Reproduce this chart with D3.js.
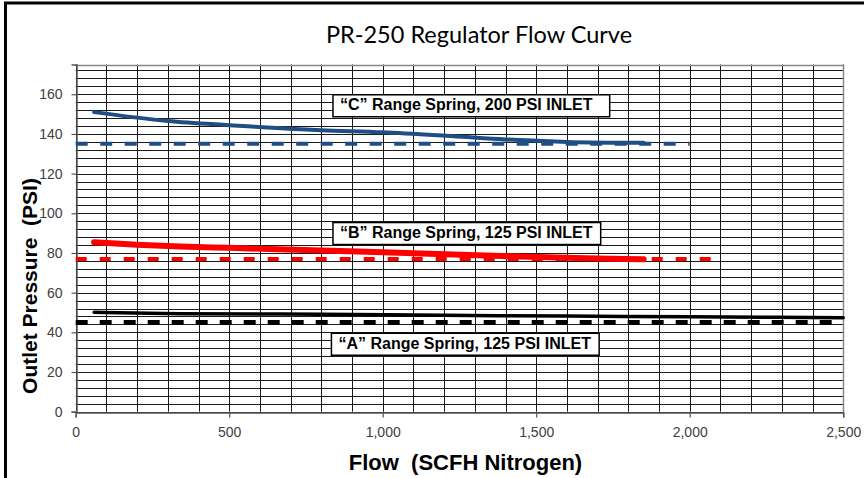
<!DOCTYPE html>
<html>
<head>
<meta charset="utf-8">
<script src="https://cdn.jsdelivr.net/npm/d3@7"></script>
<style>
  html, body { margin: 0; padding: 0; background: #fff; }
  svg { display: block; }
  text { white-space: pre; }
</style>
</head>
<body>
<svg id="chart" width="864" height="478"></svg>
<script>
// ---- data ----
const titleText = "PR-250 Regulator Flow Curve";
const xTitle = "Flow  (SCFH Nitrogen)";
const yTitle = "Outlet Pressure  (PSI)";
const xTicks = [0, 500, 1000, 1500, 2000, 2500];
const yTicks = [0, 20, 40, 60, 80, 100, 120, 140, 160];

// "C" range spring, 200 PSI inlet (solid: measured curve, dashed: set point)
const cFlow     = [60, 300, 500, 800, 1000, 1230, 1400, 1600, 1850];
const cPressure = [151, 146.5, 144.4, 141.9, 140.8, 138.8, 137.2, 136.0, 135.5];
const cSetFlow  = [0, 2000];
const cSetPress = [135, 135];

// "B" range spring, 125 PSI inlet
const bFlow     = [60, 200, 340, 500, 800, 1000, 1230, 1450, 1665, 1850];
const bPressure = [85.4, 84.2, 83.3, 82.6, 81.2, 80.4, 79.2, 78.2, 77.4, 76.8];
const bSetFlow  = [0, 2080];
const bSetPress = [77, 77];

// "A" range spring, 125 PSI inlet
const aFlow     = [60, 340, 800, 1200, 1600, 2000, 2500];
const aPressure = [50.1, 49.4, 49.1, 48.6, 48.2, 47.8, 47.4];
const aSetFlow  = [0, 2500];
const aSetPress = [45, 45];

const labels = ["\u201CC\u201D Range Spring, 200 PSI INLET",
                "\u201CB\u201D Range Spring, 125 PSI INLET",
                "\u201CA\u201D Range Spring, 125 PSI INLET"];
// label anchor positions in data units (flow, pressure at box centre)
const labelFlow  = [838, 838, 833];
const labelPress = [154.2, 89.8, 34.0];

// ---- layout ----
const svg = d3.select("#chart");
const pL = 75.7, pR = 843.2, pT = 64.5, pB = 411.7;
const x = d3.scaleLinear().domain([0, 2500]).range([pL, pR]);
const y = d3.scaleLinear().domain([0, 175]).range([pB, pT]);
const ARIAL = "'Liberation Sans', Arial, sans-serif";

// outer frame (only top and left edges visible)
svg.append("rect").attr("x", 5.5).attr("y", 3).attr("width", 900).attr("height", 520)
  .attr("fill", "none").attr("stroke", "#000").attr("stroke-width", 3);

// title
svg.append("text").attr("x", 479).attr("y", 43).attr("text-anchor", "middle")
  .attr("font-family", "Lato, 'Open Sans', sans-serif").attr("font-size", 23.5)
  .attr("fill", "#000").text(titleText);

// grid
const g = svg.append("g");
const hLines = d3.range(0, 175, 4);
g.selectAll("line.h").data(hLines).join("line")
  .attr("x1", pL).attr("x2", pR)
  .attr("y1", d => Math.round(y(d)) + 0.5).attr("y2", d => Math.round(y(d)) + 0.5)
  .attr("stroke", "#1a1a1a").attr("stroke-width", 1);
const vLines = d3.range(0, 2501, 100);
g.selectAll("line.v").data(vLines).join("line")
  .attr("y1", pT).attr("y2", pB)
  .attr("x1", d => Math.round(x(d)) + 0.5).attr("x2", d => Math.round(x(d)) + 0.5)
  .attr("stroke", "#1a1a1a").attr("stroke-width", 1);
// plot border top/right (grey)
g.append("line").attr("x1", pL).attr("x2", pR).attr("y1", Math.round(pT)+0.5).attr("y2", Math.round(pT)+0.5)
  .attr("stroke", "#888").attr("stroke-width", 1.5);
g.append("line").attr("x1", Math.round(pR)+0.5).attr("x2", Math.round(pR)+0.5).attr("y1", pT).attr("y2", pB)
  .attr("stroke", "#888").attr("stroke-width", 1.5);

// axes
const yAxis = d3.axisLeft(y).tickValues(yTicks).tickSize(5).tickPadding(9).tickFormat(d3.format(","));
const xAxis = d3.axisBottom(x).tickValues(xTicks).tickSize(5).tickPadding(10).tickFormat(d3.format(","));
const ya = svg.append("g").attr("transform", `translate(${Math.round(pL)+0.5},0)`).call(yAxis);
const xa = svg.append("g").attr("transform", `translate(0,${Math.round(pB)+0.5})`).call(xAxis);
[ya, xa].forEach(a => {
  a.select(".domain").attr("stroke", "#555").attr("stroke-width", 1.5);
  a.selectAll(".tick line").attr("stroke", "#555").attr("stroke-width", 1.2);
  a.selectAll("text").attr("font-family", ARIAL)
    .attr("font-size", 14).attr("fill", "#404040");
});

// axis titles
svg.append("text").attr("transform", "translate(37,286) rotate(-90)")
  .attr("text-anchor", "middle").attr("font-family", ARIAL)
  .attr("font-weight", "bold").attr("font-size", 21).attr("fill", "#000").text(yTitle);
svg.append("text").attr("x", 465.5).attr("y", 470)
  .attr("text-anchor", "middle").attr("font-family", ARIAL)
  .attr("font-weight", "bold").attr("font-size", 22).attr("fill", "#000").text(xTitle);

// series
const series = [
  {fx: cSetFlow, fy: cSetPress, color: "#1F4E85", w: 4, dash: "12,12.5", curve: d3.curveLinear},
  {fx: bSetFlow, fy: bSetPress, color: "#FF0000", w: 4, dash: "11,13", curve: d3.curveLinear},
  {fx: aSetFlow, fy: aSetPress, color: "#000000", w: 5, dash: "12,12", curve: d3.curveLinear},
  {fx: cFlow, fy: cPressure, color: "#1F4E85", w: 4, dash: null, curve: d3.curveMonotoneX},
  {fx: bFlow, fy: bPressure, color: "#FF0000", w: 6, dash: null, curve: d3.curveMonotoneX},
  {fx: aFlow, fy: aPressure, color: "#000000", w: 3.5, dash: null, curve: d3.curveMonotoneX},
];
series.forEach(s => {
  const pts = s.fx.map((f, i) => [f, s.fy[i]]);
  svg.append("path").datum(pts)
    .attr("d", d3.line().x(d => x(d[0])).y(d => y(d[1])).curve(s.curve))
    .attr("fill", "none").attr("stroke", s.color).attr("stroke-width", s.w)
    .attr("stroke-linecap", s.dash ? "butt" : "round")
    .attr("stroke-dasharray", s.dash);
});

// annotation boxes
const boxPad = [17, 8, 8];
labels.forEach((txt, i) => {
  const gg = svg.append("g");
  const bx = x(labelFlow[i]), cy = y(labelPress[i]);
  const t = gg.append("text").attr("x", bx + 7).attr("y", cy + 4.5)
    .attr("font-family", ARIAL).attr("font-weight", "bold")
    .attr("font-size", 16).attr("fill", "#000").text(txt);
  const bb = t.node().getBBox();
  gg.insert("rect", "text").attr("x", bx).attr("y", cy - 11)
    .attr("width", bb.width + 7 + boxPad[i]).attr("height", 22)
    .attr("fill", "#fff").attr("stroke", "#000").attr("stroke-width", 1.5);
});
</script>
</body>
</html>
